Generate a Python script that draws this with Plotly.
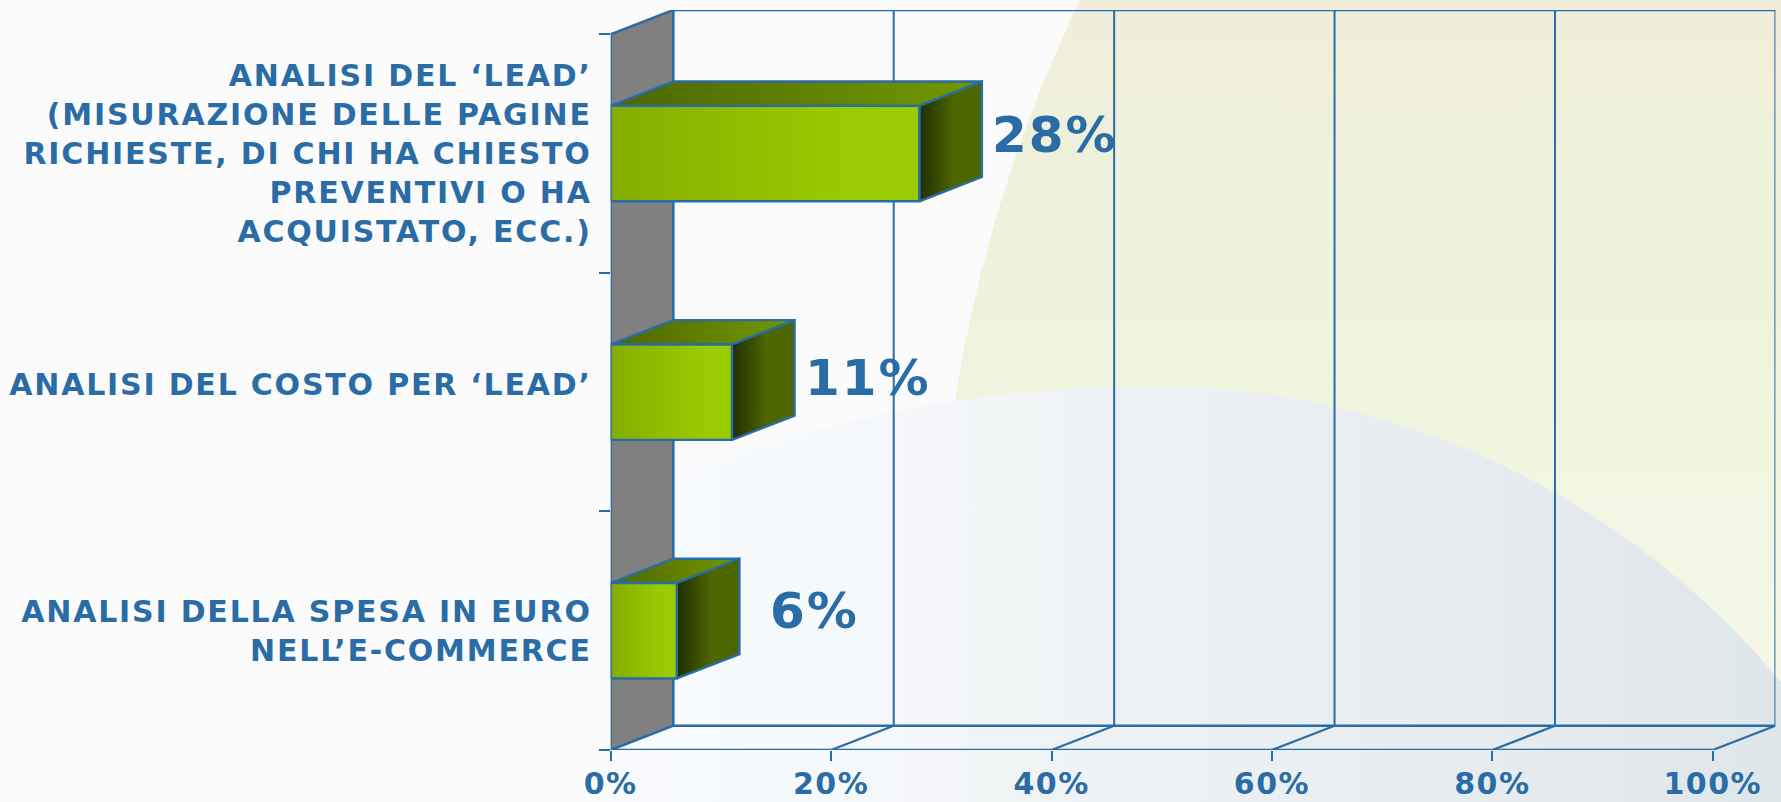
import numpy as np
import plotly.graph_objects as go

categories = [
    "ANALISI DELLA SPESA IN EURO<br>NELL’E-COMMERCE",
    "ANALISI DEL COSTO PER ‘LEAD’",
    "ANALISI DEL ‘LEAD’<br>(MISURAZIONE DELLE PAGINE<br>RICHIESTE, DI CHI HA CHIESTO<br>PREVENTIVI O HA<br>ACQUISTATO, ECC.)",
]
values = [6, 11, 28]
x_ticks = [0, 20, 40, 60, 80, 100]
x_tick_labels = ["0%", "20%", "40%", "60%", "80%", "100%"]

W, H = 1781, 802
BLUE = "#2A6CA5"
FONT = "DejaVu Sans"
DX = 5.68      # oblique depth, in % units
DY = 0.1018    # oblique depth, in category units
BAR = 0.2      # half thickness of a bar, in category units
N = len(categories)
cats_y = [i + 0.5 for i in range(N)]
label_nudge = [0.0, 0.033, 0.0]
label_dx = [31, 11, 11]
label_dy = [20, 14, 19]

main_axes = dict(xaxis="x2", yaxis="y2", cliponaxis=False, hoverinfo="skip", showlegend=False)
fig = go.Figure()

# page background: two very large soft discs
t = np.linspace(0, 2 * np.pi, 361)
xs, ys = 2362 + 1424 * np.cos(t), 620 + 1424 * np.sin(t)
fig.add_trace(go.Scatter(x=xs, y=ys, mode="lines", line=dict(width=0), fill="toself",
    fillgradient=dict(type="vertical", start=0, stop=H, colorscale=[
        [0.0, "#F0EEDA"], [0.3, "#EEF2DC"], [0.55, "#F1F5DF"], [0.8, "#F5F6E6"], [1, "#F5F6E6"]]),
    hoverinfo="skip", showlegend=False))
rx = np.where(np.cos(t) >= 0, 830, 1060)
xs, ys = 1153 + rx * np.cos(t), 1240 + 854 * np.sin(t)
fig.add_trace(go.Scatter(x=xs, y=ys, mode="lines", line=dict(width=0), fill="toself",
    fillgradient=dict(type="horizontal", start=0, stop=W, colorscale=[
        [0.0, "rgba(250,251,252,0)"], [0.168, "rgba(250,251,252,0)"], [0.33, "#F9FBFD"],
        [0.45, "#F6F9FD"], [0.533, "#F4F6F9"], [0.56, "#F0F4F4"], [0.618, "#EEF2F5"],
        [0.786, "#E8EDF0"], [1, "#DFE6EA"]]),
    hoverinfo="skip", showlegend=False))

# grey side wall
fig.add_trace(go.Scatter(x=[0, DX, DX, 0, 0], y=[0, DY, N + DY, N, 0], mode="lines",
    line=dict(color=BLUE, width=2.6), fill="toself", fillcolor="#808080", **main_axes))

# back wall grid, floor diagonals and frame
gx, gy = [], []
for v in x_ticks[1:]:
    gx += [v + DX, v + DX, None]
    gy += [DY, N + DY, None]
fig.add_trace(go.Scatter(x=gx, y=gy, mode="lines", line=dict(color=BLUE, width=2), **main_axes))
fx, fy = [], []
for v in x_ticks[1:]:
    fx += [v, v + DX, None]
    fy += [0, DY, None]
fig.add_trace(go.Scatter(x=fx, y=fy, mode="lines", line=dict(color=BLUE, width=2.2), **main_axes))
fig.add_trace(go.Scatter(
    x=[DX, x_ticks[-1] + DX, None, DX, x_ticks[-1] + DX, None, 0, x_ticks[-1]],
    y=[DY, DY, None, N + DY, N + DY, None, 0, 0],
    mode="lines", line=dict(color=BLUE, width=2.6), **main_axes))

# 3D bars
front = [[0.0, "#84AD00"], [0.78, "#99CC00"], [1, "#99CC00"]]
top = [[0.0, "#4D6600"], [1, "#739900"]]
side = [[0.0, "#202D00"], [0.55, "#4D6600"], [1, "#4D6600"]]
for c, v in zip(cats_y, values):
    lo, hi = c - BAR, c + BAR
    faces = [
        ([0, DX, v + DX, v, 0], [hi, hi + DY, hi + DY, hi, hi], top),
        ([v, v + DX, v + DX, v, v], [lo, lo + DY, hi + DY, hi, lo], side),
        ([0, v, v, 0, 0], [lo, lo, hi, hi, lo], front),
    ]
    for px, py, scale in faces:
        fig.add_trace(go.Scatter(x=px, y=py, mode="lines", line=dict(color=BLUE, width=2.4),
            fill="toself", fillgradient=dict(type="horizontal", colorscale=scale), **main_axes))

annotations = [
    dict(xref="x2", yref="y2", x=v + DX, y=c, xanchor="left", yanchor="middle", showarrow=False,
         xshift=sx, yshift=sy, text=f"{v}%",
         font=dict(family=FONT, size=50, color=BLUE, weight="bold"))
    for c, v, sx, sy in zip(cats_y, values, label_dx, label_dy)
]

fig.update_layout(
    width=W, height=H, autosize=False,
    margin=dict(l=0, r=0, t=0, b=0, pad=0),
    paper_bgcolor="#FBFBFC", plot_bgcolor="rgba(0,0,0,0)",
    annotations=annotations,
    xaxis=dict(domain=[0, 1], range=[0, W], visible=False, fixedrange=True),
    yaxis=dict(domain=[0, 1], range=[H, 0], visible=False, fixedrange=True),
    xaxis2=dict(domain=[610.7 / W, 1775.4 / W], range=[0, 100 + DX], anchor="y2",
        tickmode="array", tickvals=x_ticks, ticktext=x_tick_labels, ticks="outside",
        ticklen=10, tickwidth=2.4, tickcolor=BLUE, showgrid=False, zeroline=False, showline=False,
        automargin=False, fixedrange=True, ticklabelstandoff=-3,
        tickfont=dict(family=FONT, size=30, color=BLUE, weight="bold")),
    yaxis2=dict(domain=[(H - 750) / H, (H - 10) / H], range=[0, N + DY], anchor="x2",
        tickmode="array", tickvals=[c + d for c, d in zip(cats_y, label_nudge)],
        ticktext=categories, ticks="", ticklen=0,
        ticklabelstandoff=18, showgrid=False, zeroline=False, showline=False,
        automargin=False, fixedrange=True,
        minor=dict(tickmode="array", tickvals=list(range(N + 1)), ticks="outside", ticklen=11,
                   tickwidth=2.4, tickcolor=BLUE, showgrid=False),
        tickfont=dict(family=FONT, size=30, color=BLUE, weight="bold")),
)

post = """
document.body.style.margin='0';
var s=document.createElement('style');
s.textContent='.y2tick text{letter-spacing:1.8px}.x2tick text{letter-spacing:1.5px}.annotation-text{letter-spacing:2px}';
document.head.appendChild(s);
"""
fig.write_html("out.html", config=dict(displayModeBar=False), post_script=post)
